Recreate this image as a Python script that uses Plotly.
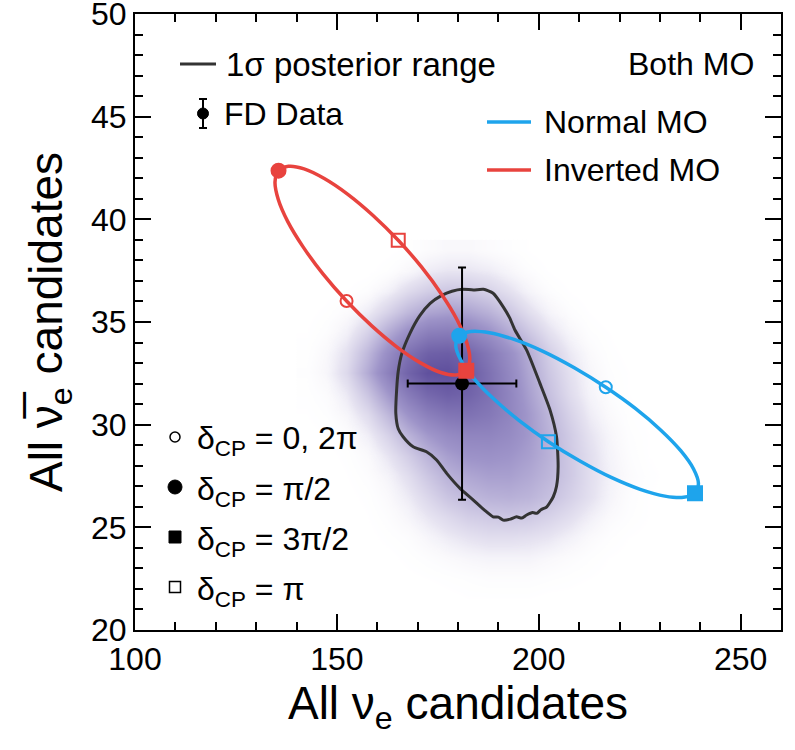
import plotly.graph_objects as go

# ---------------- data ----------------
# delta_CP points: order = 0, pi/2, pi, 3pi/2
IO_delta_x = [152.4, 135.55, 165.2, 182.05]
IO_delta_y = [36.02, 42.37, 38.98, 32.63]
NO_delta_x = [216.6, 180.3, 202.4, 238.7]
NO_delta_y = [31.82, 34.33, 29.17, 26.66]
delta_symbols = ["circle-open", "circle", "square-open", "square"]
delta_sizes = [12, 14, 13, 14]

# ellipse curves (inverted / normal MO), traced through delta_CP
IO_x = [152.4, 146.6, 141.63, 137.84, 135.47, 134.68, 135.55, 138.0, 141.87, 146.88, 152.71, 158.96,
        165.2, 171.0, 175.97, 179.76, 182.13, 182.92, 182.05, 179.6, 175.73, 170.72, 164.89, 158.64, 152.4]
IO_y = [36.02, 37.33, 38.66, 39.89, 40.98, 41.82, 42.37, 42.58, 42.46, 41.99, 41.22, 40.19,
        38.98, 37.67, 36.34, 35.11, 34.02, 33.18, 32.63, 32.42, 32.54, 33.01, 33.78, 34.81, 36.02]
NO_x = [216.6, 208.8, 201.05, 193.88, 187.76, 183.13, 180.3, 179.45, 180.66, 183.84, 188.75, 195.08,
        202.4, 210.2, 217.95, 225.12, 231.24, 235.87, 238.7, 239.55, 238.34, 235.16, 230.25, 223.92, 216.6]
NO_y = [31.82, 32.77, 33.57, 34.15, 34.48, 34.54, 34.33, 33.86, 33.16, 32.27, 31.27, 30.21,
        29.17, 28.23, 27.43, 26.85, 26.52, 26.46, 26.66, 27.14, 27.84, 28.73, 29.73, 30.79, 31.82]

# 1 sigma posterior contour
contour_x = [183.8, 186.3, 188.7, 191.2, 192.8, 194.1, 197.0, 200.3, 202.8, 204.4, 204.8, 204.4, 203.6,
             202.0, 200.5, 199.5, 198.5, 197.0, 195.8, 194.5, 193.0, 191.2, 190.0, 188.7, 186.5, 183.8,
             180.5, 177.2, 174.7, 172.2, 168.9, 166.4, 165.2, 164.6, 164.8, 165.2, 166.1, 168.1, 170.5,
             173.1, 176.0, 178.5, 181.0, 183.8]
contour_y = [36.56, 36.59, 36.40, 35.74, 35.2, 34.61, 33.63, 32.01, 30.71, 29.41, 27.95, 27.0, 26.49,
             26.0, 25.85, 25.68, 25.72, 25.60, 25.45, 25.51, 25.40, 25.35, 25.5, 25.51, 25.85, 26.33,
             26.9, 27.63, 28.28, 28.68, 28.92, 29.41, 29.8, 30.55, 31.69, 32.6, 33.47, 34.45, 35.3,
             35.91, 36.3, 36.5, 36.6, 36.56]

# FD data
data_x = [181.0]
data_y = [32.0]
data_ex = [13.45]
data_ey = [5.66]

# posterior density (background)
hx = [142.5, 147.5, 152.5, 157.5, 162.5, 167.5, 172.5, 177.5, 182.5, 187.5,
      192.5, 197.5, 202.5, 207.5, 212.5, 217.5, 222.5, 227.5, 232.5, 237.5]
hy = [21.5, 22.5, 23.5, 24.5, 25.5, 26.5, 27.5, 28.5, 29.5, 30.5,
      31.5, 32.5, 33.5, 34.5, 35.5, 36.5, 37.5, 38.5]
hz = [
    [0, 0, 0, 0, 0, 0, 0, 0.01, 0.02, 0.02, 0.02, 0.02, 0.01, 0.01, 0, 0, 0, 0, 0, 0],
    [0, 0, 0, 0, 0, 0.01, 0.02, 0.03, 0.04, 0.05, 0.05, 0.05, 0.04, 0.03, 0.02, 0.01, 0, 0, 0, 0],
    [0, 0, 0, 0, 0.01, 0.03, 0.05, 0.07, 0.09, 0.1, 0.1, 0.1, 0.08, 0.06, 0.04, 0.02, 0.01, 0, 0, 0],
    [0, 0, 0, 0.01, 0.03, 0.05, 0.09, 0.13, 0.16, 0.18, 0.18, 0.17, 0.15, 0.11, 0.07, 0.04, 0.02, 0.01, 0, 0],
    [0, 0, 0, 0.02, 0.05, 0.09, 0.15, 0.2, 0.25, 0.27, 0.28, 0.27, 0.23, 0.18, 0.12, 0.07, 0.04, 0.02, 0, 0],
    [0, 0, 0.01, 0.03, 0.07, 0.13, 0.21, 0.29, 0.34, 0.37, 0.38, 0.36, 0.31, 0.24, 0.17, 0.1, 0.05, 0.02, 0.01, 0],
    [0, 0, 0.02, 0.05, 0.1, 0.18, 0.28, 0.37, 0.42, 0.45, 0.45, 0.41, 0.35, 0.27, 0.18, 0.11, 0.06, 0.03, 0.01, 0],
    [0, 0.01, 0.03, 0.07, 0.15, 0.25, 0.36, 0.45, 0.51, 0.52, 0.5, 0.45, 0.37, 0.27, 0.18, 0.1, 0.05, 0.02, 0.01, 0],
    [0.01, 0.02, 0.05, 0.12, 0.23, 0.36, 0.48, 0.56, 0.6, 0.6, 0.56, 0.48, 0.37, 0.26, 0.16, 0.09, 0.04, 0.02, 0, 0],
    [0.02, 0.04, 0.09, 0.19, 0.34, 0.5, 0.63, 0.7, 0.72, 0.68, 0.6, 0.48, 0.35, 0.23, 0.13, 0.07, 0.03, 0.01, 0, 0],
    [0.03, 0.06, 0.14, 0.29, 0.48, 0.66, 0.79, 0.85, 0.82, 0.73, 0.6, 0.45, 0.31, 0.19, 0.1, 0.05, 0.02, 0, 0, 0],
    [0.04, 0.09, 0.2, 0.4, 0.62, 0.81, 0.94, 0.95, 0.87, 0.73, 0.58, 0.42, 0.28, 0.17, 0.09, 0.04, 0.02, 0, 0, 0],
    [0.03, 0.08, 0.17, 0.34, 0.54, 0.72, 0.83, 0.85, 0.8, 0.68, 0.54, 0.39, 0.25, 0.14, 0.07, 0.03, 0.01, 0, 0, 0],
    [0.02, 0.05, 0.11, 0.23, 0.39, 0.53, 0.63, 0.65, 0.61, 0.52, 0.4, 0.28, 0.17, 0.09, 0.04, 0.02, 0, 0, 0, 0],
    [0.01, 0.03, 0.06, 0.13, 0.23, 0.34, 0.42, 0.45, 0.43, 0.37, 0.28, 0.18, 0.1, 0.05, 0.02, 0, 0, 0, 0, 0],
    [0, 0.01, 0.02, 0.05, 0.11, 0.19, 0.25, 0.28, 0.27, 0.23, 0.17, 0.1, 0.05, 0.02, 0, 0, 0, 0, 0, 0],
    [0, 0, 0, 0.01, 0.04, 0.08, 0.13, 0.15, 0.15, 0.13, 0.09, 0.05, 0.02, 0, 0, 0, 0, 0, 0, 0],
    [0, 0, 0, 0, 0.01, 0.03, 0.06, 0.08, 0.08, 0.06, 0.04, 0.02, 0, 0, 0, 0, 0, 0, 0, 0],
]

x_ticks = [100, 150, 200, 250]
y_ticks = [20, 25, 30, 35, 40, 45, 50]

# ---------------- style ----------------
RED = "#e8433e"
BLUE = "#1ea4ec"
GRAY = "#333333"
FONT = "Liberation Sans, Arial, Helvetica, sans-serif"

W, H = 795, 750
L, R, T, B = 135, 14, 14, 120
PW, PH = W - L - R, H - T - B


def px(x):
    return (x - L) / PW


def py(y):
    return (H - B - y) / PH


fig = go.Figure()

fig.add_trace(go.Heatmap(
    x=hx, y=hy, z=hz, zmin=0, zmax=1, zsmooth="best", showscale=False, hoverinfo="skip",
    colorscale=[[0, "rgba(255,255,255,0)"], [0.15, "rgb(232,229,242)"], [0.5, "rgb(158,148,201)"],
                [1, "rgb(88,72,152)"]],
))

fig.add_trace(go.Scatter(x=contour_x, y=contour_y, mode="lines",
                         line=dict(color=GRAY, width=3, shape="spline", smoothing=0.6),
                         showlegend=False, hoverinfo="skip"))

fig.add_trace(go.Scatter(
    x=data_x, y=data_y, mode="markers", marker=dict(color="black", size=14, opacity=1),
    error_x=dict(type="data", array=data_ex, color="black", thickness=2, width=4),
    error_y=dict(type="data", array=data_ey, color="black", thickness=2, width=4),
    showlegend=False))

fig.add_trace(go.Scatter(x=IO_x, y=IO_y, mode="lines",
                         line=dict(color=RED, width=3.5, shape="spline", smoothing=1.0),
                         showlegend=False, hoverinfo="skip"))
fig.add_trace(go.Scatter(x=NO_x, y=NO_y, mode="lines",
                         line=dict(color=BLUE, width=3.5, shape="spline", smoothing=1.0),
                         showlegend=False, hoverinfo="skip"))

for dx, dy, col in [(NO_delta_x, NO_delta_y, BLUE), (IO_delta_x, IO_delta_y, RED)]:
    for xx, yy, sym, sz in zip(dx, dy, delta_symbols, delta_sizes):
        fig.add_trace(go.Scatter(
            x=[xx], y=[yy], mode="markers", opacity=1,
            marker=dict(symbol=sym, size=sz, color=col, opacity=1,
                        line=dict(color=col, width=2)),
            showlegend=False))

# ---------------- legend (drawn) ----------------
shapes = []
ann = []


def text(x, y, s, anchor="left", size=32):
    ann.append(dict(x=px(x), y=py(y), xref="paper", yref="paper", text=s, showarrow=False,
                    xanchor=anchor, yanchor="middle", font=dict(family=FONT, size=size, color="black")))


def hline(x0, x1, y, col, w=3.5):
    shapes.append(dict(type="line", xref="paper", yref="paper", x0=px(x0), x1=px(x1), y0=py(y), y1=py(y),
                       line=dict(color=col, width=w)))


hline(180, 216, 64, GRAY, 3)
text(224, 64, "1σ posterior range", size=33)
text(756, 64, "Both MO", anchor="right")
# FD data icon
shapes.append(dict(type="line", xref="paper", yref="paper", x0=px(203), x1=px(203), y0=py(99), y1=py(128),
                   line=dict(color="black", width=2)))
for yy in (99, 128):
    shapes.append(dict(type="line", xref="paper", yref="paper", x0=px(199), x1=px(207), y0=py(yy), y1=py(yy),
                       line=dict(color="black", width=2)))
shapes.append(dict(type="circle", xref="paper", yref="paper", x0=px(197.5), x1=px(208.5), y0=py(108), y1=py(119),
                   fillcolor="black", line=dict(color="black", width=1)))
text(222, 114, "FD Data")
hline(487, 531, 122, BLUE)
text(542, 122, "Normal MO")
hline(487, 531, 170, RED)
text(542, 170, "Inverted MO")

# delta CP legend
sx = 175
rows = [437, 487, 537, 587]
shapes.append(dict(type="circle", xref="paper", yref="paper", x0=px(sx - 5), x1=px(sx + 5),
                   y0=py(rows[0] - 5), y1=py(rows[0] + 5), line=dict(color="black", width=1.5)))
shapes.append(dict(type="circle", xref="paper", yref="paper", x0=px(sx - 7), x1=px(sx + 7),
                   y0=py(rows[1] - 7), y1=py(rows[1] + 7), fillcolor="black", line=dict(color="black", width=1)))
shapes.append(dict(type="rect", xref="paper", yref="paper", x0=px(sx - 6), x1=px(sx + 6),
                   y0=py(rows[2] - 6), y1=py(rows[2] + 6), fillcolor="black", line=dict(color="black", width=1)))
shapes.append(dict(type="rect", xref="paper", yref="paper", x0=px(sx - 5.5), x1=px(sx + 5.5),
                   y0=py(rows[3] - 5.5), y1=py(rows[3] + 5.5), line=dict(color="black", width=1.5)))
labels = ["δ<sub>CP</sub> = 0, 2π", "δ<sub>CP</sub> = π/2", "δ<sub>CP</sub> = 3π/2", "δ<sub>CP</sub> = π"]
for r, s in zip(rows, labels):
    text(195, r + 4, s)

axis_common = dict(
    showgrid=False, zeroline=False, showline=True, linecolor="black", linewidth=2, mirror="ticks",
    ticks="inside", ticklen=16, tickwidth=1.5, tickcolor="black", automargin=False,
    ticklabeloverflow="allow",
    tickfont=dict(family=FONT, size=32, color="black"),
)

fig.update_layout(
    width=W, height=H, margin=dict(l=L, r=R, t=T, b=B),
    paper_bgcolor="white", plot_bgcolor="white", showlegend=False,
    font=dict(family=FONT, color="black"),
    xaxis=dict(range=[100, 260], tickvals=x_ticks,
               minor=dict(dtick=10, ticks="inside", ticklen=8, tickwidth=1.5, tickcolor="black"),
               title=dict(text="All ν<sub>e</sub> candidates", font=dict(family=FONT, size=46), standoff=8),
               **axis_common),
    yaxis=dict(range=[20, 50], tickvals=y_ticks,
               minor=dict(dtick=1, ticks="inside", ticklen=8, tickwidth=1.5, tickcolor="black"),
               title=dict(text="All ν\u0305<sub>e</sub> candidates", font=dict(family=FONT, size=46), standoff=14),
               **axis_common),
    shapes=shapes, annotations=ann,
)

fig.write_html("out.html", config={"displayModeBar": False},
               post_script="document.body.style.margin='0';document.body.style.overflow='hidden';")
